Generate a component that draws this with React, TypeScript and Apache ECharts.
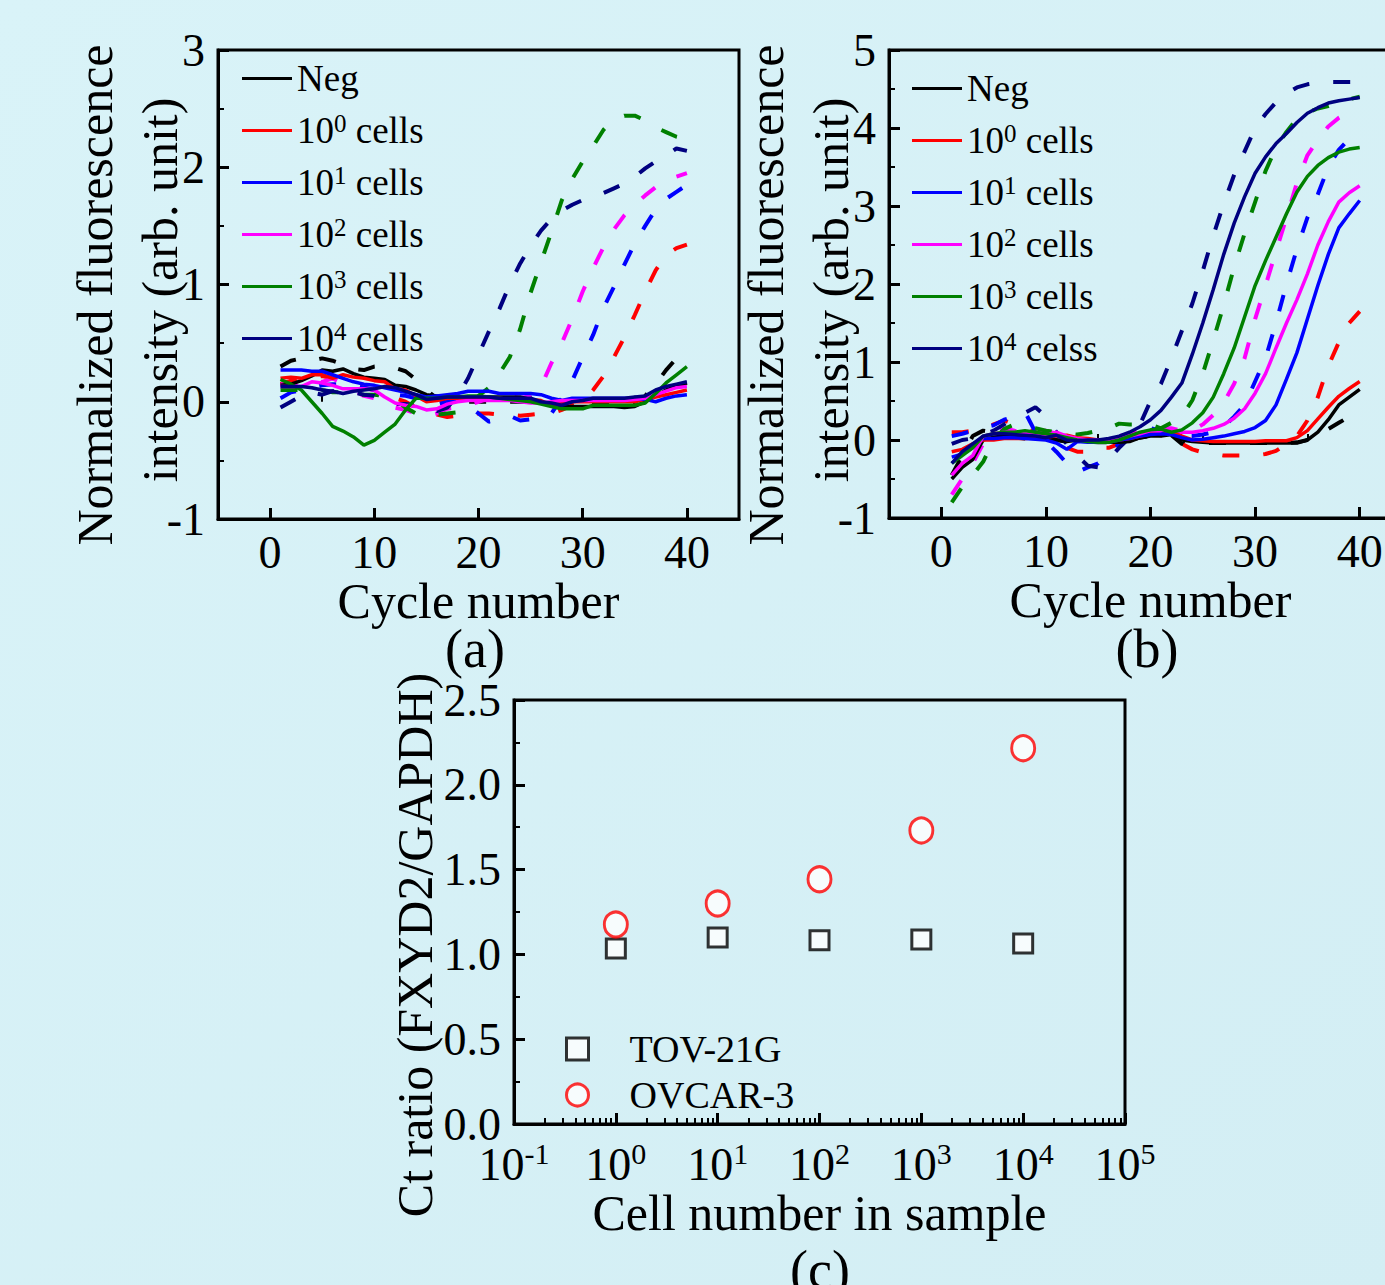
import React, { useEffect, useRef } from 'react';
import * as echarts from 'echarts';

const FONT = '"Liberation Serif", "Times New Roman", Times, serif';
const BLK = '#000000';
const COLORS = ['#000000', '#ff0000', '#0000ff', '#ff00ff', '#008000', '#000080'];

// x values (cycle numbers)
const cycles = [1, 2, 3, 4, 5, 6, 7, 8, 9, 10, 11, 12, 13, 14, 15, 16, 17, 18, 19, 20,
  21, 22, 23, 24, 25, 26, 27, 28, 29, 30, 31, 32, 33, 34, 35, 36, 37, 38, 39, 40];
const cycleMajorTicks = [0, 10, 20, 30, 40];
const cycleMinorTicks = [5, 15, 25, 35];

// ---------- Panel (a): solid curves ----------
const aNeg = [0.14, 0.15, 0.18, 0.22, 0.27, 0.26, 0.28, 0.24, 0.21, 0.2, 0.19, 0.14, 0.13, 0.1, 0.06, 0.05, 0.04, 0.04, 0.04, 0.04,
  0.04, 0.04, 0.04, 0.04, 0.02, -0.01, -0.03, -0.04, -0.04, -0.04, -0.04, -0.04, -0.04, -0.05, -0.04, 0.0, 0.05, 0.1, 0.13, 0.16];
const aC0 = [0.2, 0.21, 0.2, 0.23, 0.23, 0.2, 0.23, 0.21, 0.2, 0.18, 0.17, 0.11, 0.1, 0.05, 0.0, 0.01, 0.03, 0.03, 0.03, 0.03,
  0.03, 0.03, 0.02, 0.02, 0.02, 0.01, -0.03, -0.01, 0.0, 0.0, 0.0, 0.0, 0.0, 0.0, 0.0, 0.02, 0.04, 0.06, 0.08, 0.1];
const aC1 = [0.27, 0.27, 0.27, 0.26, 0.26, 0.23, 0.2, 0.17, 0.15, 0.14, 0.12, 0.1, 0.08, 0.06, 0.04, 0.05, 0.06, 0.07, 0.09, 0.09,
  0.09, 0.07, 0.07, 0.07, 0.07, 0.06, 0.03, 0.01, 0.03, 0.03, 0.03, 0.03, 0.03, 0.03, 0.03, 0.02, 0.0, 0.03, 0.05, 0.06];
const aC2 = [0.13, 0.13, 0.13, 0.17, 0.16, 0.14, 0.11, 0.11, 0.11, 0.1, 0.04, -0.01, -0.03, -0.04, -0.07, -0.06, -0.02, 0.0, 0.01, 0.01,
  0.01, 0.01, 0.01, 0.0, -0.01, -0.01, 0.0, 0.01, 0.01, 0.01, 0.01, 0.01, 0.01, 0.01, 0.02, 0.03, 0.06, 0.09, 0.12, 0.13];
const aC3 = [0.19, 0.15, 0.1, 0.0, -0.1, -0.21, -0.25, -0.3, -0.37, -0.33, -0.26, -0.19, -0.07, 0.03, 0.03, 0.03, 0.04, 0.04, 0.05, 0.05,
  0.04, 0.03, 0.02, 0.01, 0.0, -0.02, -0.04, -0.06, -0.06, -0.06, -0.03, -0.03, -0.03, -0.03, -0.03, -0.01, 0.07, 0.16, 0.23, 0.3];
const aC4 = [0.13, 0.13, 0.13, 0.12, 0.1, 0.09, 0.07, 0.09, 0.1, 0.11, 0.13, 0.12, 0.09, 0.06, 0.02, 0.03, 0.04, 0.04, 0.04, 0.04,
  0.04, 0.03, 0.03, 0.03, 0.03, 0.0, -0.01, -0.03, 0.0, 0.01, 0.03, 0.03, 0.03, 0.03, 0.04, 0.05, 0.1, 0.13, 0.15, 0.17];

// ---------- Panel (a): dashed curves ----------
const aNegD = [0.3, 0.35, 0.37, 0.35, 0.37, 0.35, 0.32, 0.28, 0.27, 0.3, 0.31, 0.29, 0.26, 0.19, 0.1, 0.03, 0.0, 0.0, 0.0, 0.0,
  0.0, 0.0, 0.0, 0.0, 0.0, 0.0, -0.01, -0.02, -0.02, -0.02, -0.02, -0.02, -0.02, -0.02, 0.0, 0.05, 0.15, 0.27, 0.37, 0.42];
const aC0D = [0.15, 0.18, 0.2, 0.2, 0.22, 0.2, 0.18, 0.15, 0.12, 0.1, 0.06, 0.03, 0.0, -0.05, -0.09, -0.11, -0.13, -0.12, -0.1, -0.1,
  -0.1, -0.11, -0.11, -0.12, -0.11, -0.1, -0.1, -0.07, -0.03, 0.0, 0.1, 0.22, 0.38, 0.55, 0.74, 0.94, 1.12, 1.25, 1.31, 1.34];
const aC1D = [0.03, 0.08, 0.1, 0.12, 0.14, 0.15, 0.15, 0.14, 0.12, 0.1, 0.08, 0.06, 0.05, 0.03, 0.0, -0.02, 0.0, 0.02, -0.03, -0.1,
  -0.17, -0.15, -0.12, -0.16, -0.15, -0.12, -0.1, 0.03, 0.18, 0.38, 0.57, 0.8, 0.98, 1.17, 1.35, 1.5, 1.64, 1.73, 1.79, 1.85];
const aC2D = [0.15, 0.15, 0.16, 0.15, 0.17, 0.2, 0.15, 0.1, 0.05, 0.03, 0.0, -0.05, -0.07, -0.1, -0.12, -0.1, -0.06, -0.05, -0.03, 0.0,
  0.03, 0.04, 0.05, 0.03, 0.05, 0.13, 0.33, 0.5, 0.71, 0.94, 1.14, 1.32, 1.47, 1.59, 1.68, 1.76, 1.83, 1.88, 1.92, 1.95];
const aC3D = [0.1, 0.1, 0.1, 0.1, 0.1, 0.08, 0.08, 0.06, 0.06, 0.06, 0.05, 0.02, -0.05, -0.1, -0.12, -0.11, -0.1, -0.09, -0.03, 0.05,
  0.12, 0.24, 0.38, 0.62, 0.93, 1.19, 1.45, 1.72, 1.9, 2.05, 2.18, 2.32, 2.41, 2.44, 2.44, 2.4, 2.34, 2.3, 2.26, 2.24];
const aC4D = [-0.05, 0.0, 0.05, 0.08, 0.06, 0.09, 0.1, 0.08, 0.06, 0.05, 0.0, -0.02, -0.02, -0.03, -0.05, -0.08, -0.05, 0.05, 0.2, 0.4,
  0.6, 0.79, 1.0, 1.18, 1.33, 1.46, 1.56, 1.63, 1.68, 1.72, 1.75, 1.78, 1.82, 1.86, 1.92, 1.99, 2.05, 2.1, 2.16, 2.14];

// ---------- Panel (b): solid curves ----------
const bNeg = [-0.5, -0.35, -0.25, 0.0, 0.05, 0.05, 0.04, 0.06, 0.08, 0.05, 0.0, -0.02, 0.0, -0.01, -0.02, -0.03, -0.03, -0.02, 0.03, 0.05,
  0.05, 0.07, 0.0, -0.02, -0.03, -0.04, -0.04, -0.04, -0.04, -0.04, -0.04, -0.04, -0.04, -0.04, 0.0, 0.1, 0.26, 0.45, 0.55, 0.65];
const bC0 = [-0.15, -0.12, -0.05, 0.0, 0.0, 0.02, 0.02, 0.02, 0.03, 0.04, 0.05, 0.06, 0.03, 0.02, 0.0, 0.0, 0.0, 0.02, 0.05, 0.08,
  0.1, 0.12, 0.05, 0.0, -0.01, -0.02, -0.02, -0.02, -0.02, -0.02, -0.01, -0.01, -0.01, 0.03, 0.12, 0.27, 0.42, 0.56, 0.66, 0.75];
const bC1 = [-0.22, -0.18, -0.1, 0.02, 0.02, 0.03, 0.03, 0.02, 0.01, 0.0, -0.04, -0.12, -0.02, -0.03, -0.03, -0.03, 0.0, 0.02, 0.05, 0.07,
  0.08, 0.07, 0.03, 0.0, 0.01, 0.03, 0.05, 0.08, 0.11, 0.16, 0.25, 0.45, 0.78, 1.12, 1.55, 1.98, 2.38, 2.72, 2.9, 3.07];
const bC2 = [-0.45, -0.3, -0.2, 0.05, 0.08, 0.1, 0.1, 0.1, 0.08, 0.06, 0.1, 0.05, 0.02, 0.0, 0.0, 0.0, 0.02, 0.05, 0.08, 0.12,
  0.12, 0.14, 0.1, 0.1, 0.12, 0.15, 0.2, 0.28, 0.4, 0.6, 0.85, 1.18, 1.5, 1.8, 2.13, 2.5, 2.8, 3.05, 3.17, 3.26];
const bC3 = [-0.3, -0.2, -0.1, 0.05, 0.08, 0.1, 0.1, 0.12, 0.1, 0.08, 0.06, 0.03, 0.0, -0.02, -0.03, -0.03, 0.0, 0.05, 0.1, 0.13,
  0.14, 0.1, 0.13, 0.22, 0.35, 0.55, 0.85, 1.18, 1.58, 1.98, 2.3, 2.6, 2.9, 3.18, 3.38, 3.52, 3.62, 3.69, 3.73, 3.75];
const bC4 = [-0.3, -0.15, -0.05, 0.05, 0.08, 0.08, 0.07, 0.06, 0.05, 0.03, 0.06, 0.0, -0.01, 0.0, 0.0, 0.02, 0.05, 0.1, 0.17, 0.26,
  0.38, 0.55, 0.73, 1.1, 1.5, 1.93, 2.38, 2.78, 3.12, 3.42, 3.63, 3.8, 3.93, 4.07, 4.19, 4.26, 4.32, 4.35, 4.37, 4.39];

// ---------- Panel (b): dashed curves ----------
const bNegD = [-0.45, -0.2, 0.05, 0.12, 0.1, 0.05, 0.03, 0.02, 0.02, 0.0, 0.0, -0.02, 0.0, -0.02, -0.03, -0.03, -0.02, 0.0, 0.03, 0.05,
  0.06, 0.06, -0.05, -0.04, -0.04, -0.04, -0.04, -0.04, -0.04, -0.04, -0.04, -0.04, -0.04, -0.03, 0.0, 0.05, 0.14, 0.22, 0.3, 0.4];
const bC0D = [0.1, 0.1, 0.12, 0.15, 0.2, 0.25, 0.2, 0.15, 0.1, 0.05, 0.0, -0.1, -0.15, -0.15, -0.1, -0.1, -0.05, 0.0, 0.05, 0.08,
  0.06, 0.05, -0.05, -0.12, -0.16, -0.18, -0.2, -0.2, -0.2, -0.2, -0.18, -0.14, -0.05, 0.05, 0.25, 0.55, 0.95, 1.25, 1.5, 1.65];
const bC1D = [0.05, 0.08, 0.12, 0.16, 0.19, 0.26, 0.3, 0.36, 0.1, -0.02, -0.15, -0.3, -0.41, -0.35, -0.3, -0.17, -0.05, 0.05, 0.12, 0.15,
  0.12, 0.08, 0.05, 0.05, 0.07, 0.1, 0.17, 0.3, 0.45, 0.75, 1.05, 1.5, 2.0, 2.45, 2.85, 3.15, 3.5, 3.72, 3.86, 3.96];
const bC2D = [-0.7, -0.5, -0.3, -0.05, 0.1, 0.15, 0.12, 0.1, 0.12, 0.12, 0.08, 0.05, 0.02, 0.0, 0.0, 0.0, 0.05, 0.08, 0.1, 0.12,
  0.15, 0.15, 0.12, 0.12, 0.2, 0.32, 0.48, 0.72, 1.05, 1.55, 1.98, 2.42, 2.85, 3.3, 3.65, 3.85, 4.02, 4.13, 4.2, 4.25];
const bC3D = [-0.8, -0.6, -0.45, -0.28, 0.0, 0.14, 0.2, 0.18, 0.15, 0.12, 0.1, 0.08, 0.07, 0.09, 0.12, 0.15, 0.21, 0.2, 0.2, 0.2,
  0.15, 0.22, 0.3, 0.51, 0.85, 1.28, 1.73, 2.22, 2.65, 3.05, 3.45, 3.75, 3.95, 4.12, 4.2, 4.25, 4.28, 4.32, 4.37, 4.4];
const bC4D = [-0.05, 0.0, 0.02, 0.06, 0.12, 0.2, 0.28, 0.35, 0.42, 0.3, 0.1, -0.05, -0.2, -0.33, -0.35, -0.25, -0.1, 0.03, 0.2, 0.5,
  0.72, 1.05, 1.4, 1.75, 2.17, 2.62, 3.03, 3.4, 3.7, 4.0, 4.18, 4.33, 4.44, 4.52, 4.56, 4.58, 4.59, 4.59, 4.59, 4.59];

// ---------- Panel (c) ----------
const cellCounts = [1, 10, 100, 1000, 10000];
const tovRatio = [1.035, 1.1, 1.084, 1.088, 1.065];
const ovcarRatio = [1.176, 1.3, 1.443, 1.731, 2.216];
const cellMinorTicks = [0.2, 0.3, 0.4, 0.5, 0.6, 0.7, 0.8, 0.9, 2, 3, 4, 5, 6, 7, 8, 9,
  20, 30, 40, 50, 60, 70, 80, 90, 200, 300, 400, 500, 600, 700, 800, 900,
  2000, 3000, 4000, 5000, 6000, 7000, 8000, 9000, 20000, 30000, 40000, 50000, 60000, 70000, 80000, 90000];

// legend labels
const legendA = ['{n|Neg}', '{n|10}{s|0}{n| cells}', '{n|10}{s|1}{n| cells}', '{n|10}{s|2}{n| cells}', '{n|10}{s|3}{n| cells}', '{n|10}{s|4}{n| cells}'];
const legendB = ['{n|Neg}', '{n|10}{s|0}{n| cells}', '{n|10}{s|1}{n| cells}', '{n|10}{s|2}{n| cells}', '{n|10}{s|3}{n| cells}', '{n|10}{s|4}{n| celss}'];
const keysA = ['a-Neg', 'a-1', 'a-10', 'a-100', 'a-1000', 'a-10000'];
const keysB = ['b-Neg', 'b-1', 'b-10', 'b-100', 'b-1000', 'b-10000'];

const solidA = [aNeg, aC0, aC1, aC2, aC3, aC4];
const dashA = [aNegD, aC0D, aC1D, aC2D, aC3D, aC4D];
const solidB = [bNeg, bC0, bC1, bC2, bC3, bC4];
const dashB = [bNegD, bC0D, bC1D, bC2D, bC3D, bC4D];

const pairs = (vals: number[]) => cycles.map((c, i) => [c, vals[i]]);

const legendRich = {
  n: { fontFamily: FONT, fontSize: 37, color: BLK, lineHeight: 40 },
  s: { fontFamily: FONT, fontSize: 25, color: BLK, lineHeight: 25, verticalAlign: 'top' },
};

function yAxisCfg(grid: number, min: number, max: number, interval: number, fmt?: any) {
  return {
    type: 'value', gridIndex: grid, min, max, interval,
    axisLine: { show: true, onZero: false, lineStyle: { color: BLK, width: 3 } },
    axisTick: { show: true, inside: true, length: 11, lineStyle: { color: BLK, width: 3 } },
    minorTick: { show: true, splitNumber: 2, length: 6, lineStyle: { color: BLK, width: 2 } },
    axisLabel: { show: true, color: BLK, fontFamily: FONT, fontSize: 46, margin: 13, formatter: fmt },
    splitLine: { show: false },
    minorSplitLine: { show: false },
  };
}

function xCycleAxis(grid: number) {
  return {
    type: 'value', gridIndex: grid, min: -5, max: 45, position: 'bottom',
    name: 'Cycle number', nameLocation: 'middle', nameGap: 54,
    nameTextStyle: { fontFamily: FONT, fontSize: 50, color: BLK },
    axisLine: { show: true, onZero: false, lineStyle: { color: BLK, width: 3 } },
    axisTick: { show: true, inside: true, length: 11, customValues: cycleMajorTicks, lineStyle: { color: BLK, width: 3 } },
    axisLabel: { show: true, customValues: cycleMajorTicks, color: BLK, fontFamily: FONT, fontSize: 46, margin: 10 },
    splitLine: { show: false },
  };
}

function xMinorAxis(grid: number, min: number, max: number, vals: number[]) {
  return {
    type: 'value', gridIndex: grid, min, max, position: 'bottom',
    axisLine: { show: false },
    axisTick: { show: true, inside: true, length: 6, customValues: vals, lineStyle: { color: BLK, width: 2 } },
    axisLabel: { show: false },
    splitLine: { show: false },
  };
}

function lineSeries(keys: string[], sets: number[][], dashed: boolean, xi: number, yi: number) {
  return sets.map((vals, i) => ({
    type: 'line',
    name: dashed ? keys[i] + '-dash' : keys[i],
    xAxisIndex: xi, yAxisIndex: yi,
    data: pairs(vals),
    showSymbol: false, symbol: 'none',
    lineStyle: { color: COLORS[i], width: dashed ? 4 : 3.5, type: dashed ? [17, 24] : 'solid', cap: 'butt' },
    itemStyle: { color: COLORS[i] },
    z: dashed ? 2 : 3,
  }));
}

function txt(text: string, x: number, y: number, rot: number, size = 50) {
  return {
    type: 'text', x, y, rotation: rot, silent: true,
    style: {
      text, fill: BLK, font: `${size}px ${FONT}`, fontSize: size, fontFamily: FONT,
      align: 'center', verticalAlign: 'middle', textAlign: 'center', textVerticalAlign: 'middle',
    },
  };
}

export default function App() {
  const ref = useRef<HTMLDivElement>(null);
  useEffect(() => {
    document.body.style.margin = '0';
    document.body.style.overflow = 'hidden';
    document.documentElement.style.overflow = 'hidden';
    document.body.style.background = '#d6f1f6';
    if (!ref.current) return;
    const chart = echarts.init(ref.current, null, { renderer: 'svg' });
    const option: any = {
      animation: false,
      backgroundColor: {
        type: 'linear', x: 0, y: 0, x2: 1, y2: 1,
        colorStops: [{ offset: 0, color: '#d9f3f8' }, { offset: 1, color: '#d3eef4' }],
      },
      grid: [
        { left: 218, top: 50, width: 521, height: 469, show: true, borderColor: BLK, borderWidth: 3, backgroundColor: 'transparent' },
        { left: 889, top: 50, width: 523, height: 468, show: true, borderColor: BLK, borderWidth: 3, backgroundColor: 'transparent' },
        { left: 514, top: 700, width: 611, height: 424, show: true, borderColor: BLK, borderWidth: 3, backgroundColor: 'transparent' },
      ],
      xAxis: [
        xCycleAxis(0),
        xMinorAxis(0, -5, 45, cycleMinorTicks),
        xCycleAxis(1),
        xMinorAxis(1, -5, 45, cycleMinorTicks),
        {
          type: 'log', logBase: 10, gridIndex: 2, min: 0.1, max: 100000, position: 'bottom',
          name: 'Cell number in sample', nameLocation: 'middle', nameGap: 64,
          nameTextStyle: { fontFamily: FONT, fontSize: 50, color: BLK },
          axisLine: { show: true, onZero: false, lineStyle: { color: BLK, width: 3 } },
          axisTick: { show: true, inside: true, length: 11, lineStyle: { color: BLK, width: 3 } },
          axisLabel: {
            show: true, margin: 14,
            formatter: (v: number) => `{b|10}{s|${Math.round(Math.log10(v))}}`,
            rich: {
              b: { fontFamily: FONT, fontSize: 46, color: BLK, lineHeight: 52 },
              s: { fontFamily: FONT, fontSize: 30, color: BLK, lineHeight: 30, verticalAlign: 'top' },
            },
          },
          splitLine: { show: false },
          minorTick: { show: false },
        },
        xMinorAxis(2, -1, 5, cellMinorTicks.map((v) => Math.log10(v))),
      ],
      yAxis: [
        yAxisCfg(0, -1, 3, 1),
        yAxisCfg(1, -1, 5, 1),
        yAxisCfg(2, 0, 2.5, 0.5, (v: number) => v.toFixed(1)),
      ],
      legend: [
        {
          data: keysA, orient: 'vertical', left: 237, top: 55, itemWidth: 50, itemHeight: 3, itemGap: 13.5,
          icon: 'rect', selectedMode: false,
          formatter: (name: string) => legendA[keysA.indexOf(name)],
          textStyle: { fontFamily: FONT, fontSize: 37, color: BLK, rich: legendRich },
        },
        {
          data: keysB, orient: 'vertical', left: 907, top: 65, itemWidth: 50, itemHeight: 3, itemGap: 13.5,
          icon: 'rect', selectedMode: false,
          formatter: (name: string) => legendB[keysB.indexOf(name)],
          textStyle: { fontFamily: FONT, fontSize: 37, color: BLK, rich: legendRich },
        },
        {
          data: ['TOV-21G', 'OVCAR-3'], orient: 'vertical', left: 560, top: 1025,
          itemWidth: 22, itemHeight: 22, itemGap: 8, selectedMode: false,
          itemStyle: { borderWidth: 3 },
          formatter: (name: string) => `{t|${name}}`,
          textStyle: {
            fontFamily: FONT, fontSize: 38, color: BLK,
            rich: { t: { fontFamily: FONT, fontSize: 38, color: BLK, lineHeight: 38, padding: [0, 0, 0, 36] } },
          },
        },
      ],
      series: [
        ...lineSeries(keysA, dashA, true, 0, 0),
        ...lineSeries(keysA, solidA, false, 0, 0),
        ...lineSeries(keysB, dashB, true, 2, 1),
        ...lineSeries(keysB, solidB, false, 2, 1),
        {
          type: 'scatter', name: 'TOV-21G', xAxisIndex: 4, yAxisIndex: 2,
          data: cellCounts.map((c, i) => [c, tovRatio[i]]),
          symbol: 'rect', symbolSize: [19, 19],
          itemStyle: { color: '#ffffff', borderColor: BLK, borderWidth: 3 },
          z: 4,
        },
        {
          type: 'scatter', name: 'OVCAR-3', xAxisIndex: 4, yAxisIndex: 2,
          data: cellCounts.map((c, i) => [c, ovcarRatio[i]]),
          symbol: 'circle', symbolSize: [23, 25],
          itemStyle: { color: '#ffffff', borderColor: '#ff0000', borderWidth: 3 },
          z: 4,
        },
      ],
      graphic: [
        txt('Normalized fluorescence', 95, 295, Math.PI / 2),
        txt('intensity (arb. unit)', 160, 290, Math.PI / 2),
        txt('Normalized fluorescence', 766, 295, Math.PI / 2),
        txt('intensity (arb. unit)', 831, 290, Math.PI / 2),
        txt('Ct ratio (FXYD2/GAPDH)', 415, 945, Math.PI / 2),
        txt('(a)', 475, 649, 0, 54),
        txt('(b)', 1147, 649, 0, 54),
        txt('(c)', 820, 1270, 0, 54),
      ],
    };
    chart.setOption(option);
    return () => chart.dispose();
  }, []);
  return <div ref={ref} style={{ position: 'absolute', left: 0, top: 0, width: 1420, height: 1285 }} />;
}
